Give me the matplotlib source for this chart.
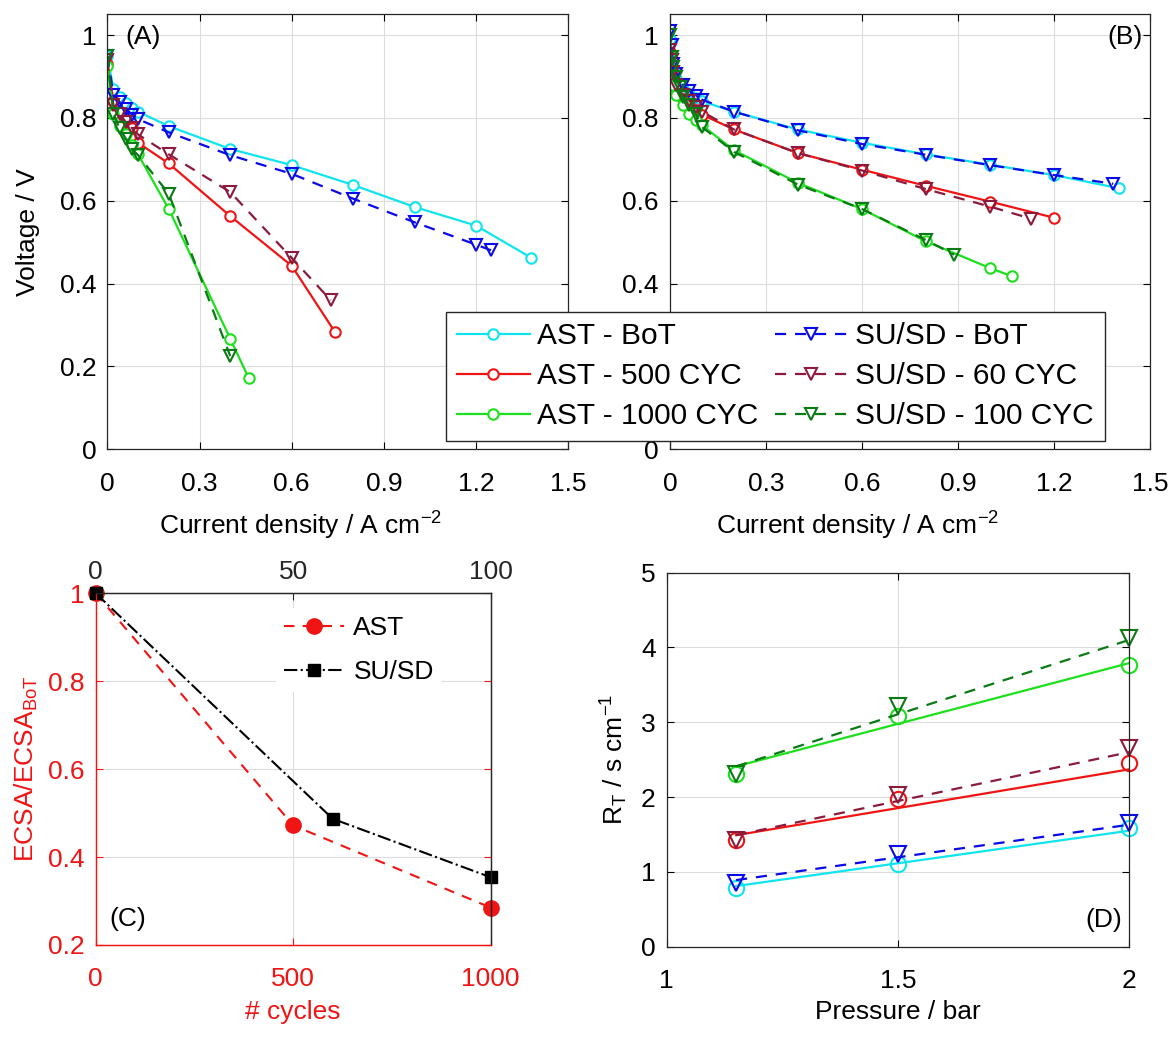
import matplotlib
matplotlib.use("Agg")
import matplotlib.pyplot as plt

plt.rcParams.update({
    "font.family": ["Liberation Sans", "DejaVu Sans"],
    "font.size": 19,
    "mathtext.fontset": "custom",
    "mathtext.rm": "Liberation Sans",
    "mathtext.it": "Liberation Sans:italic",
    "xtick.direction": "in",
    "ytick.direction": "in",
    "xtick.top": True,
    "ytick.right": True,
    "xtick.major.size": 5,
    "ytick.major.size": 5,
    "xtick.major.pad": 16,
    "ytick.major.pad": 8,
    "axes.edgecolor": "#262626",
    "axes.linewidth": 0.9,
    "grid.color": "#dcdcdc",
    "grid.linewidth": 0.8,
})

# colours (MATLAB-like)
C_CYAN = "#10E4EE"
C_RED = "#F01414"
C_GREEN = "#1CE01C"
C_BLUE = "#0A0AE8"
C_MAROON = "#8C1A3C"
C_DKGREEN = "#0A7A14"

# ---- panel A: polarisation curves ----
a_ast_bot_j = [0, 0.02, 0.04, 0.06, 0.08, 0.1, 0.2, 0.4, 0.6, 0.8, 1.0, 1.2, 1.38]
a_ast_bot_v = [0.95, 0.87, 0.85, 0.835, 0.825, 0.815, 0.78, 0.725, 0.686, 0.638, 0.585, 0.54, 0.462]
a_ast_500_j = [0, 0.02, 0.04, 0.06, 0.08, 0.1, 0.2, 0.4, 0.6, 0.74]
a_ast_500_v = [0.93, 0.84, 0.815, 0.795, 0.775, 0.74, 0.69, 0.563, 0.443, 0.284]
a_ast_1000_j = [0, 0.02, 0.04, 0.06, 0.08, 0.1, 0.2, 0.4, 0.46]
a_ast_1000_v = [0.925, 0.81, 0.78, 0.76, 0.735, 0.712, 0.58, 0.267, 0.172]
a_susd_bot_j = [0, 0.02, 0.04, 0.06, 0.08, 0.1, 0.2, 0.4, 0.6, 0.8, 1.0, 1.2, 1.25]
a_susd_bot_v = [0.95, 0.855, 0.838, 0.822, 0.808, 0.797, 0.765, 0.71, 0.665, 0.605, 0.548, 0.494, 0.48]
a_susd_60_j = [0, 0.02, 0.04, 0.06, 0.08, 0.1, 0.2, 0.4, 0.6, 0.727]
a_susd_60_v = [0.94, 0.83, 0.81, 0.79, 0.775, 0.76, 0.712, 0.621, 0.462, 0.36]
a_susd_100_j = [0, 0.02, 0.04, 0.06, 0.08, 0.1, 0.2, 0.4]
a_susd_100_v = [0.95, 0.81, 0.775, 0.75, 0.725, 0.71, 0.617, 0.225]

# ---- panel B ----
b_ast_bot_j = [0, 0.01, 0.02, 0.04, 0.06, 0.08, 0.1, 0.2, 0.4, 0.6, 0.8, 1.0, 1.2, 1.404]
b_ast_bot_v = [0.99, 0.92, 0.895, 0.87, 0.858, 0.848, 0.84, 0.815, 0.772, 0.74, 0.712, 0.687, 0.662, 0.63]
b_ast_500_j = [0, 0.01, 0.02, 0.04, 0.06, 0.08, 0.1, 0.2, 0.4, 0.6, 0.8, 1.0, 1.2]
b_ast_500_v = [0.96, 0.9, 0.87, 0.845, 0.83, 0.818, 0.808, 0.772, 0.715, 0.675, 0.636, 0.598, 0.559]
b_ast_1000_j = [0, 0.01, 0.02, 0.04, 0.06, 0.08, 0.1, 0.2, 0.4, 0.6, 0.8, 1.0, 1.068]
b_ast_1000_v = [0.95, 0.88, 0.855, 0.83, 0.81, 0.795, 0.782, 0.722, 0.643, 0.58, 0.502, 0.4375, 0.418]
b_susd_bot_j = [0, 0.005, 0.01, 0.02, 0.04, 0.06, 0.08, 0.1, 0.2, 0.4, 0.6, 0.8, 1.0, 1.2, 1.385]
b_susd_bot_v = [1.01, 0.975, 0.93, 0.905, 0.88, 0.866, 0.854, 0.844, 0.815, 0.77, 0.737, 0.711, 0.686, 0.662, 0.641]
b_susd_60_j = [0, 0.005, 0.01, 0.02, 0.04, 0.06, 0.08, 0.1, 0.2, 0.4, 0.6, 0.8, 1.0, 1.127]
b_susd_60_v = [0.965, 0.94, 0.91, 0.88, 0.855, 0.84, 0.826, 0.815, 0.772, 0.715, 0.673, 0.628, 0.586, 0.557]
b_susd_100_j = [0, 0.005, 0.01, 0.02, 0.03, 0.04, 0.06, 0.08, 0.1, 0.2, 0.4, 0.6, 0.8, 0.888]
b_susd_100_v = [1.0, 0.946, 0.922, 0.898, 0.874, 0.85, 0.83, 0.81, 0.778, 0.718, 0.639, 0.58, 0.505, 0.47]

# ---- panel C: ECSA loss ----
c_ast_cycles = [0, 500, 1000]
c_ast_ecsa = [1.0, 0.472, 0.285]
c_susd_cycles = [0, 60, 100]
c_susd_ecsa = [1.0, 0.487, 0.354]

# ---- panel D: transport resistance vs pressure ----
d_pressure = [1.15, 1.5, 2.0]
d_fit_p = [1.15, 2.0]
d_ast_bot = [0.78, 1.105, 1.58]
d_ast_bot_fit = [0.81, 1.55]
d_ast_500 = [1.43, 1.97, 2.45]
d_ast_500_fit = [1.49, 2.37]
d_ast_1000 = [2.31, 3.08, 3.76]
d_ast_1000_fit = [2.41, 3.79]
d_susd_bot = [0.85, 1.24, 1.65]
d_susd_bot_fit = [0.89, 1.63]
d_susd_60 = [1.42, 2.03, 2.65]
d_susd_60_fit = [1.49, 2.6]
d_susd_100 = [2.31, 3.22, 4.12]
d_susd_100_fit = [2.41, 4.1]

labels = ["AST - BoT", "AST - 500 CYC", "AST - 1000 CYC",
          "SU/SD - BoT", "SU/SD - 60 CYC", "SU/SD - 100 CYC"]
colors = [C_CYAN, C_RED, C_GREEN, C_BLUE, C_MAROON, C_DKGREEN]

fig = plt.figure(figsize=(11.74, 10.45), dpi=100)
axA = fig.add_axes([0.0914, 0.570, 0.3927, 0.4163])
axB = fig.add_axes([0.5707, 0.570, 0.4089, 0.4163])
axC = fig.add_axes([0.0815, 0.0957, 0.3365, 0.3366])
axD = fig.add_axes([0.5679, 0.0941, 0.3940, 0.3580])


def pol_panel(ax, series):
    handles = []
    for (j, v), col, lab in zip(series, colors, labels):
        if lab.startswith("AST"):
            h, = ax.plot(j, v, "-", marker="o", ms=7.5, mfc="white", mec=col,
                         mew=1.5, color=col, lw=1.6, label=lab)
        else:
            h, = ax.plot(j, v, "--", marker="v", ms=8.5, mfc="none", mec=col,
                         mew=1.5, color=col, lw=1.6, label=lab, dashes=(5, 4))
        handles.append(h)
    ax.set_xlim(0, 1.5)
    ax.set_ylim(0, 1.05)
    ax.set_xticks([0, 0.3, 0.6, 0.9, 1.2, 1.5])
    ax.set_xticklabels(["0", "0.3", "0.6", "0.9", "1.2", "1.5"])
    ax.set_yticks([0, 0.2, 0.4, 0.6, 0.8, 1.0])
    ax.set_yticklabels(["0", "0.2", "0.4", "0.6", "0.8", "1"])
    ax.grid(True)
    ax.set_axisbelow(True)
    ax.set_xlabel("Current density / A cm$^{-2}$", labelpad=10)
    return handles


handles = pol_panel(axA, [(a_ast_bot_j, a_ast_bot_v), (a_ast_500_j, a_ast_500_v),
                          (a_ast_1000_j, a_ast_1000_v), (a_susd_bot_j, a_susd_bot_v),
                          (a_susd_60_j, a_susd_60_v), (a_susd_100_j, a_susd_100_v)])
axA.set_ylabel("Voltage / V", labelpad=14)
axA.xaxis.label.set_x(0.42)
axA.text(0.04, 0.975, "(A)", transform=axA.transAxes, va="top", ha="left")

pol_panel(axB, [(b_ast_bot_j, b_ast_bot_v), (b_ast_500_j, b_ast_500_v),
                (b_ast_1000_j, b_ast_1000_v), (b_susd_bot_j, b_susd_bot_v),
                (b_susd_60_j, b_susd_60_v), (b_susd_100_j, b_susd_100_v)])
axB.xaxis.label.set_x(0.39)
axB.text(0.985, 0.975, "(B)", transform=axB.transAxes, va="top", ha="right")

leg = fig.legend(handles, labels, ncol=2, loc="upper left",
                 bbox_to_anchor=(0.380, 0.7017), frameon=True, fancybox=False,
                 edgecolor="#262626", framealpha=1, handlelength=2.45,
                 handletextpad=0.25, columnspacing=0.55, borderpad=0.35,
                 labelspacing=0.4, borderaxespad=0, fontsize=21.5)
leg.get_frame().set_linewidth(1.0)

# ---- panel C ----
axC.plot(c_ast_cycles, c_ast_ecsa, "--", marker="o", ms=11, color=C_RED,
         mfc=C_RED, mec=C_RED, lw=1.5, dashes=(5, 4), label="AST", clip_on=False)
axC.set_xlim(0, 1000)
axC.set_ylim(0.2, 1.0)
axC.set_xticks([0, 500, 1000])
axC.set_yticks([0.2, 0.4, 0.6, 0.8, 1.0])
axC.set_yticklabels(["0.2", "0.4", "0.6", "0.8", "1"])
axC.grid(True)
axC.tick_params(top=False, colors=C_RED)
axC.spines["left"].set_color(C_RED)
axC.spines["bottom"].set_color(C_RED)
axC.set_xlabel("# cycles", color=C_RED, labelpad=6)
axC.set_ylabel("ECSA/ECSA$_{\\mathrm{BoT}}$", color=C_RED, labelpad=6)
axC.text(0.035, 0.04, "(C)", transform=axC.transAxes, va="bottom", ha="left")

axC2 = axC.twiny()
axC2.plot(c_susd_cycles, c_susd_ecsa, "-.", marker="s", ms=8.5, color="black",
          lw=1.5, label="SU/SD", clip_on=False)
axC2.set_xlim(0, 100)
axC2.set_xticks([0, 50, 100])
axC2.tick_params(axis="x", top=True, bottom=False, colors="#262626", pad=7)
axC2.spines["left"].set_color(C_RED)
axC2.spines["bottom"].set_color(C_RED)
hc = axC.get_lines() + axC2.get_lines()
legC = axC2.legend(hc, ["AST", "SU/SD"], loc="upper left",
                   bbox_to_anchor=(0.422, 0.995), frameon=True, fancybox=False,
                   edgecolor="none", framealpha=1, handlelength=2.3,
                   handletextpad=0.35, labelspacing=0.75, borderpad=0.3)

# ---- panel D ----
d_series = [(d_ast_bot, d_ast_bot_fit), (d_ast_500, d_ast_500_fit),
            (d_ast_1000, d_ast_1000_fit), (d_susd_bot, d_susd_bot_fit),
            (d_susd_60, d_susd_60_fit), (d_susd_100, d_susd_100_fit)]
for (pts, fit), col, lab in zip(d_series, colors, labels):
    if lab.startswith("AST"):
        axD.plot(d_pressure, pts, "o", ms=11, mfc="none", mec=col, mew=1.5,
                 clip_on=False)
        axD.plot(d_fit_p, fit, "-", color=col, lw=1.6)
    else:
        axD.plot(d_pressure, pts, "v", ms=12, mfc="none", mec=col, mew=1.5,
                 clip_on=False)
        axD.plot(d_fit_p, fit, "--", color=col, lw=1.6, dashes=(5, 4))
axD.set_xlim(1, 2)
axD.set_ylim(0, 5)
axD.set_xticks([1, 1.5, 2])
axD.set_xticklabels(["1", "1.5", "2"])
axD.set_yticks([0, 1, 2, 3, 4, 5])
axD.grid(True)
axD.set_axisbelow(True)
axD.set_xlabel("Pressure / bar", labelpad=5)
axD.set_ylabel("R$_\\mathrm{T}$ / s cm$^{-1}$", labelpad=8)
axD.text(0.985, 0.04, "(D)", transform=axD.transAxes, va="bottom", ha="right")

fig.savefig("out.png", dpi=100)
